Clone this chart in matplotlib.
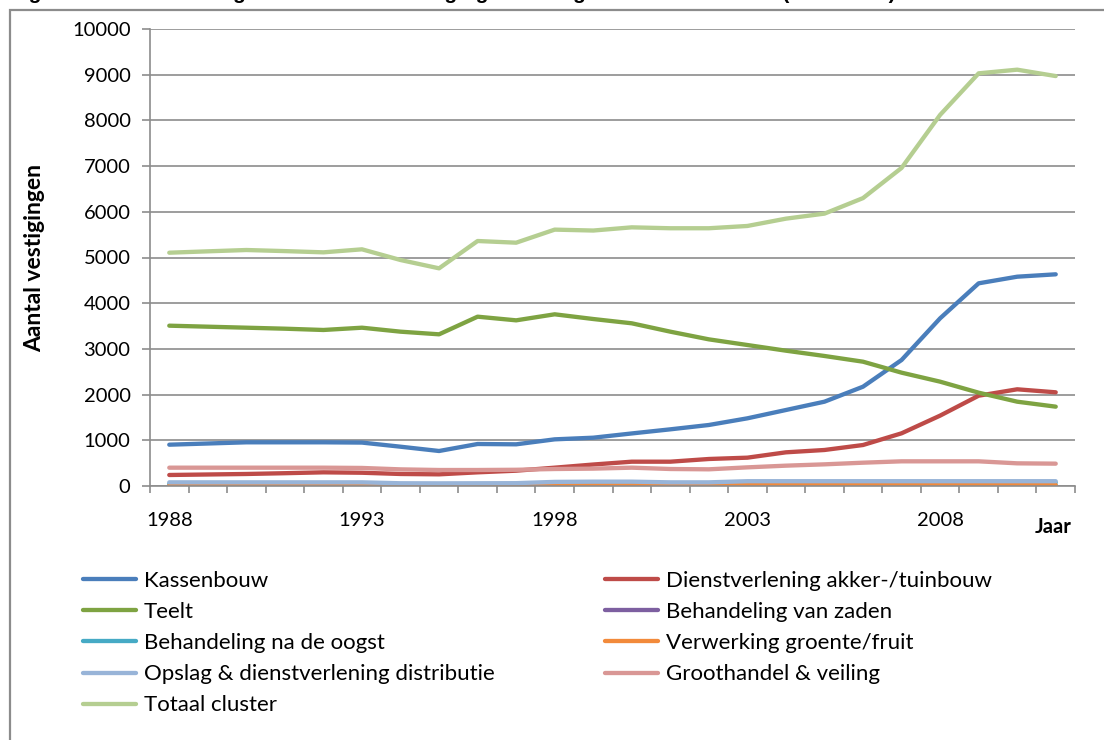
import matplotlib
matplotlib.use("Agg")
import matplotlib.pyplot as plt
from matplotlib.patches import Rectangle
from matplotlib.ticker import MultipleLocator, FixedLocator

plt.rcParams['font.family'] = ['Lato', 'DejaVu Sans']

# --- data (aantal vestigingen per jaar) ---
jaren = list(range(1988, 2012))

kassenbouw = [904, 930, 956, 956, 956, 950, 860, 766, 919, 912, 1021, 1057,
              1150, 1240, 1335, 1481, 1663, 1845, 2173, 2757, 3669, 4435, 4580, 4632]
dienstverlening = [241, 252, 263, 280, 299, 290, 263, 255, 299, 335, 401, 470,
                   532, 532, 591, 620, 737, 788, 897, 1153, 1540, 1976, 2116, 2050]
teelt = [3508, 3486, 3464, 3442, 3414, 3464, 3377, 3319, 3705, 3625, 3757, 3654,
         3560, 3377, 3209, 3085, 2961, 2845, 2720, 2480, 2283, 2042, 1845, 1736]
zaden = [5, 5, 5, 5, 5, 5, 5, 5, 5, 5, 5, 5,
         5, 5, 5, 8, 8, 8, 8, 8, 8, 8, 8, 8]
na_oogst = [50, 50, 50, 50, 50, 50, 40, 40, 40, 40, 55, 60,
            60, 50, 50, 70, 75, 75, 75, 75, 75, 75, 75, 75]
verwerking = [10, 10, 10, 10, 10, 10, 10, 10, 10, 10, 12, 15,
              15, 15, 15, 22, 22, 22, 22, 22, 22, 22, 22, 22]
opslag = [80, 80, 80, 80, 80, 80, 60, 58, 60, 62, 90, 95,
          95, 80, 80, 105, 105, 105, 105, 105, 105, 105, 105, 105]
groothandel = [401, 401, 401, 401, 401, 395, 364, 350, 350, 355, 372, 380,
               401, 372, 365, 408, 445, 474, 510, 540, 540, 540, 496, 489]
totaal = [5105, 5135, 5164, 5140, 5113, 5179, 4945, 4763, 5361, 5324, 5610, 5590,
          5660, 5640, 5640, 5690, 5850, 5960, 6300, 6960, 8120, 9030, 9110, 8970]

reeksen = [
    ("Kassenbouw", kassenbouw, "#4A7EBB"),
    ("Dienstverlening akker-/tuinbouw", dienstverlening, "#BE4B48"),
    ("Teelt", teelt, "#7EA342"),
    ("Behandeling van zaden", zaden, "#7D5FA0"),
    ("Behandeling na de oogst", na_oogst, "#46AAC5"),
    ("Verwerking groente/fruit", verwerking, "#F28A3B"),
    ("Opslag & dienstverlening distributie", opslag, "#98B4D8"),
    ("Groothandel & veiling", groothandel, "#D99795"),
    ("Totaal cluster", totaal, "#B5CE91"),
]

W, H = 1104, 740
fig = plt.figure(figsize=(W / 100, H / 100), dpi=100)

# afgesneden kop boven het kader
fig.text(10 / W, 1 + 1 / H, "Figuur 3.1 Ontwikkeling van het aantal vestigingen in de glastuinbouwcluster (1988-2011)",
         fontsize=15, fontweight='bold', family=['Liberation Sans', 'DejaVu Sans'],
         ha='left', va='baseline')

# kader rond de grafiek
fig.patches.append(Rectangle((10 / W, -0.1), 1.2, 1 - 9.5 / H + 0.1, transform=fig.transFigure,
                             fill=False, edgecolor='#8C8C8C', linewidth=1.6))

ax = fig.add_axes([150 / W, 1 - 486 / H, (1075 - 150) / W, (486 - 29) / H])

for naam, waarden, kleur in reeksen:
    ax.plot(jaren, waarden, color=kleur, linewidth=3.1, label=naam, solid_capstyle='round')

ax.set_xlim(1987.5, 2011.5)
ax.set_ylim(0, 10000)
ax.yaxis.set_major_locator(MultipleLocator(1000))
ax.grid(axis='y', color='#8C8C8C', linewidth=1.2)
ax.set_axisbelow(True)

ax.xaxis.set_major_locator(FixedLocator([1988, 1993, 1998, 2003, 2008]))
ax.xaxis.set_minor_locator(FixedLocator([j + 0.5 for j in range(1987, 2012)]))
ax.tick_params(axis='x', which='major', length=0, pad=19, labelsize=14.5)
ax.tick_params(axis='x', which='minor', length=5, color='#8C8C8C', width=1.2, direction='out')
ax.tick_params(axis='y', length=6, color='#8C8C8C', width=1.2, labelsize=14.5, pad=8)

for side in ('top', 'right'):
    ax.spines[side].set_visible(False)
for side in ('left', 'bottom'):
    ax.spines[side].set_color('#8C8C8C')
    ax.spines[side].set_linewidth(1.2)

fig.text(35 / W, 1 - 258 / H, "Aantal vestigingen", rotation=90, fontsize=16.5, fontweight='bold',
         ha='center', va='center')
fig.text(1072 / W, 1 - 527 / H, "Jaar", fontsize=14.5, fontweight='bold', ha='right', va='center')

# legenda rij voor rij in twee kolommen
handles, labels = ax.get_legend_handles_labels()
volgorde = [0, 2, 4, 6, 8, 1, 3, 5, 7]
fig.legend([handles[i] for i in volgorde], [labels[i] for i in volgorde],
           loc='upper left', bbox_to_anchor=(63 / W, 1 - 551 / H), ncol=2,
           frameon=False, fontsize=16, handlelength=2.4, handletextpad=0.35,
           columnspacing=4.95, labelspacing=0.5)

fig.savefig("out.png", dpi=100)
